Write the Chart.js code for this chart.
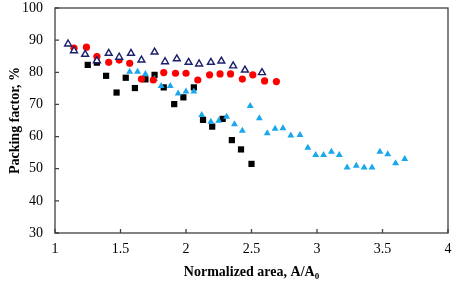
<!DOCTYPE html>
<html>
<head>
<meta charset="utf-8">
<script src="https://cdn.jsdelivr.net/npm/chart.js@4.4.1/dist/chart.umd.min.js"></script>
<style>
  html, body { margin: 0; padding: 0; background: #fff; }
  #wrap { width: 454px; height: 283px; }
</style>
</head>
<body>
<div id="wrap"><canvas id="packChart" width="454" height="283"></canvas></div>
<script>
// open navy triangles
var openTriX = [1.10, 1.145, 1.23, 1.32, 1.41, 1.49, 1.58, 1.66, 1.76, 1.84, 1.93, 2.02, 2.10, 2.19, 2.27, 2.36, 2.45, 2.58];
var openTriY = [88.8, 86.7, 85.6, 83.6, 85.9, 84.7, 85.9, 83.8, 86.3, 83.3, 84.2, 83.1, 82.6, 83.1, 83.5, 82.0, 80.7, 79.9];

// red circles
var redX = [1.145, 1.24, 1.32, 1.41, 1.49, 1.57, 1.66, 1.75, 1.83, 1.92, 2.00, 2.09, 2.18, 2.26, 2.34, 2.43, 2.51, 2.60, 2.69];
var redY = [87.5, 87.8, 84.9, 83.1, 83.8, 82.8, 77.9, 77.6, 79.9, 79.7, 79.7, 77.6, 79.2, 79.5, 79.5, 77.9, 79.2, 77.3, 77.1];

// black squares
var blackX = [1.25, 1.32, 1.39, 1.47, 1.54, 1.61, 1.69, 1.76, 1.83, 1.91, 1.98, 2.06, 2.13, 2.20, 2.28, 2.35, 2.42, 2.50];
var blackY = [82.3, 83.0, 78.9, 73.7, 78.3, 75.1, 77.8, 79.2, 75.3, 70.1, 72.2, 75.3, 65.2, 63.1, 65.5, 58.9, 56.0, 51.5];

// light blue triangles
var blueX = [1.57, 1.63, 1.69, 1.76, 1.81, 1.88, 1.94, 2.00, 2.06, 2.12, 2.19, 2.25, 2.31, 2.37, 2.43, 2.49, 2.56, 2.62, 2.68, 2.74, 2.80, 2.87, 2.93, 2.99, 3.05, 3.11, 3.17, 3.23, 3.30, 3.36, 3.42, 3.48, 3.54, 3.60, 3.67];
var blueY = [80.2, 80.2, 79.5, 77.9, 75.7, 75.7, 73.4, 74.0, 74.0, 66.7, 64.6, 64.9, 66.2, 63.8, 61.8, 69.5, 65.7, 61.0, 62.4, 62.6, 60.3, 60.5, 56.5, 54.3, 54.3, 55.3, 54.3, 50.4, 50.9, 50.4, 50.4, 55.3, 54.5, 51.7, 53.0];

var xTicks = [1, 1.5, 2, 2.5, 3, 3.5, 4];
var yTicks = [30, 40, 50, 60, 70, 80, 90, 100];

function toPoints(xs, ys) {
  var arr = [];
  for (var i = 0; i < xs.length; i++) { arr.push({x: xs[i], y: ys[i]}); }
  return arr;
}

var axisColor = '#404040';
var serif = '"Liberation Serif", "Times New Roman", serif';

// box, inner tick marks and axis titles
var framePlugin = {
  id: 'frame',
  afterDraw: function(chart) {
    var ctx = chart.ctx;
    var a = chart.chartArea;
    var xs = chart.scales.x, ys = chart.scales.y;
    ctx.save();
    ctx.strokeStyle = axisColor;
    ctx.lineWidth = 1.3;
    ctx.strokeRect(a.left, a.top, a.right - a.left, a.bottom - a.top);
    ctx.beginPath();
    for (var i = 0; i < xTicks.length; i++) {
      var px = xs.getPixelForValue(xTicks[i]);
      ctx.moveTo(px, a.bottom);
      ctx.lineTo(px, a.bottom - 4);
    }
    for (var j = 0; j < yTicks.length; j++) {
      var py = ys.getPixelForValue(yTicks[j]);
      ctx.moveTo(a.left, py);
      ctx.lineTo(a.left + 4, py);
    }
    ctx.stroke();

    // x title with subscript
    ctx.fillStyle = '#000';
    ctx.textBaseline = 'alphabetic';
    var main = 'Normalized area, A/A';
    ctx.font = 'bold 14px ' + serif;
    var w1 = ctx.measureText(main).width;
    ctx.font = 'bold 9px ' + serif;
    var w2 = ctx.measureText('0').width;
    var cx = (a.left + a.right) / 2;
    var sx = cx - (w1 + w2) / 2;
    ctx.font = 'bold 14px ' + serif;
    ctx.textAlign = 'left';
    ctx.fillText(main, sx, 276);
    ctx.font = 'bold 9px ' + serif;
    ctx.fillText('0', sx + w1, 279);

    // y title
    ctx.save();
    ctx.translate(15, (a.top + a.bottom) / 2);
    ctx.rotate(-Math.PI / 2);
    ctx.textAlign = 'center';
    ctx.textBaseline = 'middle';
    ctx.font = 'bold 14px ' + serif;
    ctx.fillText('Packing factor, %', 0, 0);
    ctx.restore();
    ctx.restore();
  }
};

var ctx = document.getElementById('packChart').getContext('2d');
var packChart = new Chart(ctx, {
  type: 'scatter',
  data: {
    datasets: [
      {
        label: 'open',
        data: toPoints(openTriX, openTriY),
        pointStyle: 'triangle', pointRadius: 4,
        backgroundColor: '#ffffff', borderColor: '#1c1f6b', borderWidth: 1.4
      },
      {
        label: 'red',
        data: toPoints(redX, redY),
        pointStyle: 'circle', pointRadius: 3.6,
        backgroundColor: '#ff0000', borderColor: '#ff0000', borderWidth: 0
      },
      {
        label: 'blue',
        data: toPoints(blueX, blueY),
        pointStyle: 'triangle', pointRadius: 4,
        backgroundColor: '#1aa7ec', borderColor: '#1aa7ec', borderWidth: 0
      },
      {
        label: 'black',
        data: toPoints(blackX, blackY),
        pointStyle: 'rect', pointRadius: 4.4,
        backgroundColor: '#000000', borderColor: '#000000', borderWidth: 0
      }
    ]
  },
  options: {
    responsive: false,
    animation: false,
    layout: { padding: { top: 8, right: 6, left: 0, bottom: 0 } },
    scales: {
      x: {
        type: 'linear', min: 1, max: 4,
        afterBuildTicks: function(scale) { scale.ticks = xTicks.map(function(v) { return {value: v}; }); },
        afterFit: function(scale) {
          scale.height = 50;
          scale.paddingLeft = 0; scale.paddingRight = 0;
        },
        grid: { display: false, drawTicks: false },
        border: { display: false },
        ticks: {
          color: '#000', padding: 8, maxRotation: 0, autoSkip: false,
          font: { family: serif, size: 14 },
          callback: function(v) { return String(v); }
        }
      },
      y: {
        type: 'linear', min: 30, max: 100,
        afterBuildTicks: function(scale) { scale.ticks = yTicks.map(function(v) { return {value: v}; }); },
        afterFit: function(scale) {
          scale.width = 55;
          scale.paddingTop = 0; scale.paddingBottom = 0;
        },
        grid: { display: false, drawTicks: false },
        border: { display: false },
        ticks: {
          color: '#000', padding: 12, autoSkip: false,
          font: { family: serif, size: 14 },
          callback: function(v) { return String(v); }
        }
      }
    },
    plugins: {
      legend: { display: false },
      tooltip: { enabled: false }
    }
  },
  plugins: [framePlugin]
});
</script>
</body>
</html>
